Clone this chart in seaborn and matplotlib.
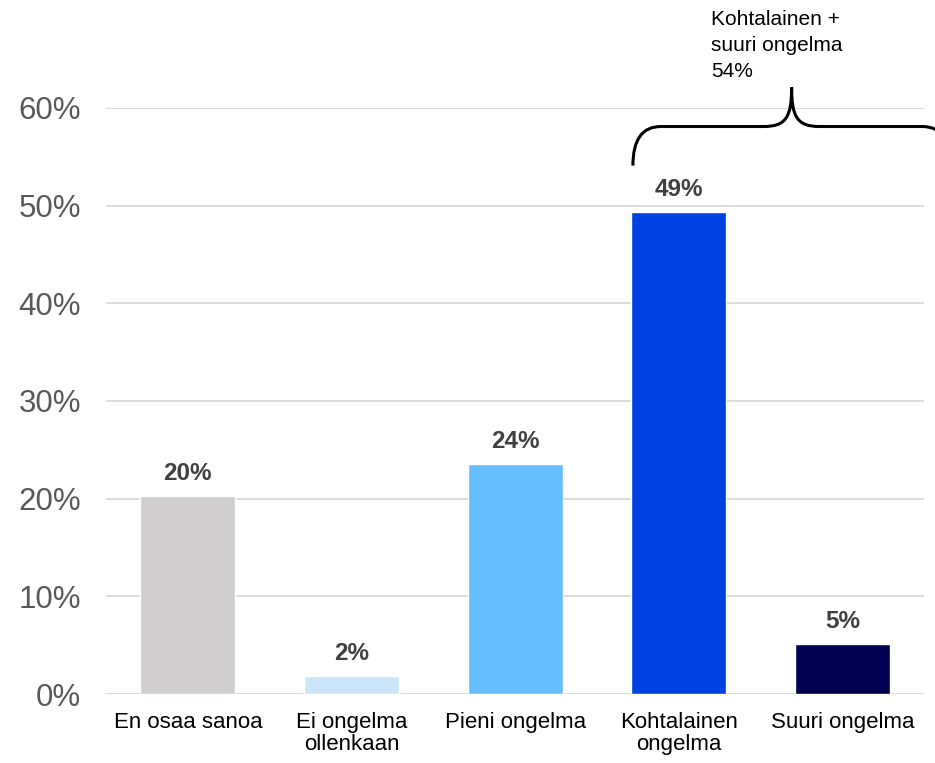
import matplotlib
matplotlib.use("Agg")
import matplotlib.pyplot as plt
import seaborn as sns
import pandas as pd
from matplotlib.path import Path
from matplotlib.patches import PathPatch

categories = ["En osaa sanoa", "Ei ongelma\nollenkaan", "Pieni ongelma",
              "Kohtalainen\nongelma", "Suuri ongelma"]
values = [20.3, 1.8, 23.5, 49.3, 5.1]
labels = ["20%", "2%", "24%", "49%", "5%"]
colors = ["#D0CECF", "#CBE6FB", "#66BEFF", "#0041E3", "#00004F"]
yticks = [0, 10, 20, 30, 40, 50, 60]
brace_text = "Kohtalainen +\nsuuri ongelma\n54%"

sns.set_theme(style="white")
plt.rcParams['font.family'] = ['Liberation Sans', 'DejaVu Sans']

df = pd.DataFrame({"cat": categories, "val": values})

fig = plt.figure(figsize=(9.35, 7.63), dpi=100)
ax = fig.add_axes([0.1134, 0.0904, 0.875, 0.7681])
sns.barplot(data=df, x="cat", y="val", hue="cat", palette=colors,
            width=0.58, legend=False, ax=ax, saturation=1)

ax.set_ylim(0, 60)
ax.set_xlim(-0.5, 4.5)
ax.set_yticks(yticks)
ax.set_yticklabels([f"{t}%" for t in yticks], fontsize=22.5, color="#595959")
ax.tick_params(axis="y", length=0, pad=18)
ax.tick_params(axis="x", length=0, pad=13, labelsize=16, labelcolor="black")
for t in ax.get_xticklabels():
    t.set_linespacing(1.08)
ax.set_xlabel("")
ax.set_ylabel("")
ax.yaxis.grid(True, color="#D9D9D9", linewidth=1.3)
ax.set_axisbelow(True)
for s in ["top", "right", "left", "bottom"]:
    ax.spines[s].set_visible(False)

for i, (v, lab) in enumerate(zip(values, labels)):
    ax.annotate(lab, (i, v), xytext=(0, 8), textcoords="offset points",
                ha="center", va="bottom", fontsize=17.5, fontweight="bold",
                color="#404040")

# curly brace over the two last categories
x0, xc, x1 = 2.72, 3.69, 4.66
ylow, ymid, ytop = 54.1, 58.1, 62.1
dx = 0.17
verts = [
    (x0, ylow), (x0, ymid), (x0 + dx, ymid),
    (xc - dx, ymid),
    (xc - dx * 0.2, ymid), (xc, ymid + 1.0), (xc, ytop),
    (xc, ymid + 1.0), (xc + dx * 0.2, ymid), (xc + dx, ymid),
    (x1 - dx, ymid),
    (x1, ymid), (x1, ylow),
]
codes = [Path.MOVETO, Path.CURVE3, Path.CURVE3,
         Path.LINETO,
         Path.CURVE4, Path.CURVE4, Path.CURVE4,
         Path.CURVE4, Path.CURVE4, Path.CURVE4,
         Path.LINETO,
         Path.CURVE3, Path.CURVE3]
ax.add_patch(PathPatch(Path(verts, codes), facecolor="none", edgecolor="black",
                       linewidth=2.2, clip_on=False))
ax.text(xc - 0.49, 70.0, brace_text, ha="left", va="top", fontsize=15,
        color="black", linespacing=1.45)

fig.savefig("out.png", dpi=100)
